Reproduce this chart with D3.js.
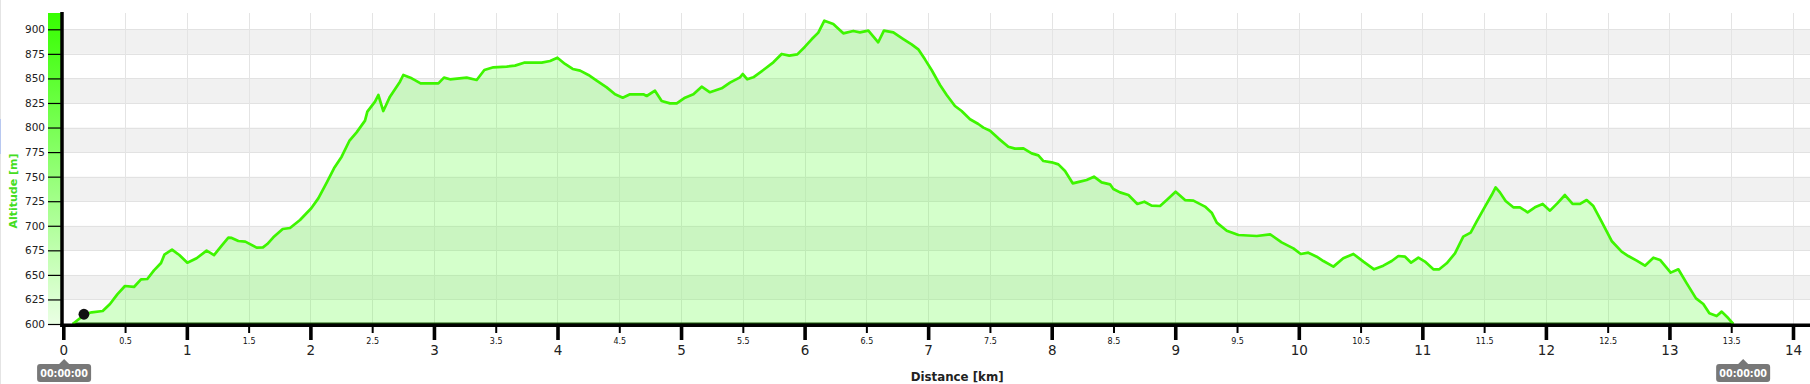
<!DOCTYPE html>
<html>
<head>
<meta charset="utf-8">
<script src="https://cdn.jsdelivr.net/npm/d3@7"></script>
<style>
  html, body { margin: 0; padding: 0; background: #fff; }
  svg { display: block; }
  text { font-family: "DejaVu Sans", Verdana, sans-serif; }
</style>
</head>
<body>
<script>
// ---------- DATA ----------
const distanceKm = [0.076,0.135,0.167,0.23,0.319,0.378,0.437,0.499,0.572,0.629,0.68,0.734,0.791,0.818,0.88,0.939,1.004,1.079,1.16,1.22,1.282,1.336,1.363,1.417,1.473,1.565,1.616,1.651,1.7,1.776,1.835,1.916,2.007,2.064,2.132,2.191,2.253,2.315,2.374,2.442,2.461,2.523,2.55,2.59,2.644,2.725,
2.752,2.82,2.892,3.036,3.081,3.13,3.265,3.346,3.408,3.481,3.589,3.656,3.729,3.872,3.94,3.999,4.061,4.123,4.183,4.25,4.317,4.398,4.466,4.528,4.587,4.695,4.722,4.789,4.843,4.911,4.965,5.032,5.1,5.167,5.234,5.329,5.396,5.477,
5.499,5.536,5.585,5.666,5.747,5.814,5.876,5.941,6.003,6.057,6.111,6.16,6.232,6.313,6.394,6.448,6.516,6.596,6.642,6.718,6.799,6.866,6.92,6.974,7.028,7.096,7.15,7.217,7.271,7.339,7.406,7.447,7.501,7.568,7.649,7.703,7.771,7.838,7.892,7.933,8.0,8.054,8.108,8.17,8.229,
8.283,8.342,8.404,8.472,8.499,8.553,8.621,8.693,8.75,8.809,8.877,8.931,9.003,9.079,9.147,9.241,9.295,9.336,9.417,9.512,9.66,9.768,9.861,9.956,10.016,10.077,10.145,10.199,10.28,10.36,10.442,10.523,10.609,10.684,10.752,10.806,10.86,10.909,10.968,
11.021,11.089,11.137,11.197,11.264,11.331,11.391,11.439,11.507,11.561,11.593,11.628,11.674,11.736,11.79,11.852,11.911,11.974,12.033,12.092,12.154,12.216,12.276,12.33,12.384,12.451,12.532,12.613,12.667,12.735,12.802,12.87,12.924,13.01,13.072,13.14,13.215,13.274,13.323,13.382,13.423,13.477,13.517];
const altitudeM = [600,605.8,609.8,611.9,613.2,620.4,630.2,638.7,637.7,645.5,645.8,654.6,662.1,670.6,675.7,670.2,662.4,666.9,674.7,670.2,679.7,687.9,687.6,684.5,683.8,677.7,678,681.4,688.2,696.7,697.7,705.9,717.8,727.9,743.9,758.5,770.3,786.3,795.1,807,816.2,826.3,833.1,816.8,831.4,846.7,
853.5,850.1,845,845,850.8,849.1,850.8,848.4,858.6,861.3,862,863,866,866,867.7,871.1,864.7,859.6,857.9,853.5,847.7,840.9,833.8,830.4,833.8,833.8,832.1,837.5,827,824.6,824.6,830.4,833.8,841.6,835.9,839.9,845.7,851.1,
854.5,849.1,851.1,858.6,866.4,874.9,873.2,874.5,882.3,889.8,896.6,908.8,905.4,895.9,898.3,896.9,898.6,886.8,898.6,896.9,890.1,884.7,879.6,869.4,858.6,843.3,833.1,821.9,816.8,808.4,803.6,799.9,796.8,789,780.5,778.5,778.8,773.7,771.7,765.9,764.6,762.5,755.8,743.2,744.9,
746.6,750,744.2,742.2,737.4,734,731.3,722.2,724.5,720.5,720.1,726.2,734.7,726.2,725.6,719.5,713.3,703.2,695,690.6,689.6,691.3,683.1,677,671.3,672.6,668.5,664.1,658.4,666.9,671.3,663.5,655.7,659.4,664.1,669.2,668.5,662.4,667.5,
663.5,655.7,655.7,661.8,671.9,688.9,693,704.2,719.5,731.3,739.1,734,725.2,718.8,718.8,713.7,718.8,722.2,715.4,722.8,731.3,722.2,722.2,726.2,720.1,704.2,684.5,673.6,669.2,664.5,659.4,667.5,665.2,652.3,655.7,641.4,626.1,620.4,610.9,608.1,612.6,605.8,600];

const yTicks = [600,625,650,675,700,725,750,775,800,825,850,875,900];
const xMajorTicks = [0,1,2,3,4,5,6,7,8,9,10,11,12,13,14];
const xMinorTicks = [0.5,1.5,2.5,3.5,4.5,5.5,6.5,7.5,8.5,9.5,10.5,11.5,12.5,13.5];
const xGridTicks = [0.5,1,1.5,2,2.5,3,3.5,4,4.5,5,5.5,6,6.5,7,7.5,8,8.5,9,9.5,10,10.5,11,11.5,12,12.5,13,13.5,14];
const startMarker = { km: 0.167, alt: 609.9 };
const timeMarkerKm = [0, 13.59];
const timeMarkerLabels = ["00:00:00", "00:00:00"];
const xTitle = "Distance [km]";
const yTitle = "Altitude [m]";

// ---------- LAYOUT ----------
const W = 1810, H = 384;
const plotTop = 13, plotBottom = 324;
const x = d3.scaleLinear().domain([0, 14]).range([63.3, 1793]);
const y = d3.scaleLinear().domain([600, 900]).range([plotBottom, 29.3]);

const svg = d3.select("body").append("svg").attr("width", W).attr("height", H);

// left edge frame line
svg.append("line").attr("x1", 0.5).attr("x2", 0.5).attr("y1", 0).attr("y2", H)
  .attr("stroke", "#e4e4e4").attr("stroke-width", 1);
svg.append("line").attr("x1", 0.5).attr("x2", 0.5).attr("y1", 119).attr("y2", 154)
  .attr("stroke", "#b8c8f0").attr("stroke-width", 1);

const plot = svg.append("g");

// alternating bands
const bands = yTicks.slice(0, -1).map((t, i) => ({ lo: t, hi: yTicks[i + 1], i }))
  .filter(b => b.i % 2 === 1);
plot.selectAll("rect.band").data(bands).join("rect")
  .attr("class", "band")
  .attr("x", x(0)).attr("width", W - x(0))
  .attr("y", d => y(d.hi)).attr("height", d => y(d.lo) - y(d.hi))
  .attr("fill", "#f1f1f1");

// horizontal grid lines
plot.selectAll("line.hgrid").data(yTicks.slice(1)).join("line")
  .attr("class", "hgrid")
  .attr("x1", x(0)).attr("x2", W)
  .attr("y1", d => Math.round(y(d)) + 0.5).attr("y2", d => Math.round(y(d)) + 0.5)
  .attr("stroke", "#e2e2e2").attr("stroke-width", 1);

// vertical grid lines
plot.selectAll("line.vgrid").data(xGridTicks).join("line")
  .attr("class", "vgrid")
  .attr("x1", d => Math.round(x(d)) + 0.5).attr("x2", d => Math.round(x(d)) + 0.5)
  .attr("y1", plotTop).attr("y2", plotBottom)
  .attr("stroke", "#e4e4e4").attr("stroke-width", 1);

// area + line
const data = distanceKm.map((k, i) => ({ km: k, alt: altitudeM[i] }));
const area = d3.area().x(d => x(d.km)).y0(y(600)).y1(d => y(d.alt));
const line = d3.line().x(d => x(d.km)).y(d => y(d.alt));
plot.append("path").datum(data).attr("d", area)
  .attr("fill", "rgba(100,255,70,0.28)");
plot.append("line")
  .attr("x1", x(distanceKm[0])).attr("x2", x(distanceKm[distanceKm.length - 1]))
  .attr("y1", plotBottom - 0.8).attr("y2", plotBottom - 0.8)
  .attr("stroke", "#1d5a0a").attr("stroke-width", 1.6);
plot.append("path").datum(data).attr("d", line)
  .attr("fill", "none").attr("stroke", "#3ef500").attr("stroke-width", 2.7)
  .attr("stroke-linejoin", "round");

// gradient bar on y axis
const defs = svg.append("defs");
const grad = defs.append("linearGradient").attr("id", "altGrad")
  .attr("x1", 0).attr("y1", 0).attr("x2", 0).attr("y2", 1);
grad.append("stop").attr("offset", "0%").attr("stop-color", "#36ff00");
grad.append("stop").attr("offset", "100%").attr("stop-color", "#eaffe4");
svg.append("rect").attr("x", 48).attr("y", plotTop).attr("width", 14)
  .attr("height", plotBottom - plotTop).attr("fill", "url(#altGrad)");

// y axis
const yAxis = svg.append("g").attr("transform", `translate(${x(0) - 1.3},0)`)
  .call(d3.axisLeft(y).tickValues(yTicks).tickSize(14).tickPadding(3).tickFormat(d3.format("d")));
yAxis.select(".domain").remove();
yAxis.selectAll(".tick line").attr("stroke", "#000").attr("stroke-width", 1.2);
yAxis.selectAll(".tick text").attr("font-size", "10.5px").attr("fill", "#222")
  .attr("font-family", "DejaVu Sans, Verdana, sans-serif");
svg.append("line").attr("x1", x(0) - 1.3).attr("x2", x(0) - 1.3)
  .attr("y1", plotTop - 1).attr("y2", 327)
  .attr("stroke", "#000").attr("stroke-width", 3.5);

// x axis line
svg.append("line").attr("x1", x(0) - 3).attr("x2", W)
  .attr("y1", 325.2).attr("y2", 325.2)
  .attr("stroke", "#000").attr("stroke-width", 3.4);

// x major axis
const xMaj = svg.append("g").attr("transform", "translate(0,326)")
  .call(d3.axisBottom(x).tickValues(xMajorTicks).tickSize(14).tickFormat(d3.format("d")));
xMaj.select(".domain").remove();
xMaj.selectAll(".tick line").attr("stroke", "#000").attr("stroke-width", 3.6);
xMaj.selectAll(".tick text").attr("font-size", "13.5px").attr("fill", "#222")
  .attr("y", 28.5).attr("dy", 0).attr("font-family", "DejaVu Sans, Verdana, sans-serif");

// x minor axis
const xMin = svg.append("g").attr("transform", "translate(0,326)")
  .call(d3.axisBottom(x).tickValues(xMinorTicks).tickSize(7).tickFormat(d3.format("")));
xMin.select(".domain").remove();
xMin.selectAll(".tick line").attr("stroke", "#000").attr("stroke-width", 2);
xMin.selectAll(".tick text").attr("font-size", "8px").attr("fill", "#111")
  .attr("y", 17.5).attr("dy", 0).attr("font-family", "DejaVu Sans, Verdana, sans-serif");

// start marker
svg.append("circle").attr("cx", x(startMarker.km)).attr("cy", y(startMarker.alt))
  .attr("r", 5.4).attr("fill", "#111");

// time markers
const tm = svg.selectAll("g.tmark").data(timeMarkerKm.map((k, i) => ({ km: k, label: timeMarkerLabels[i] })))
  .join("g").attr("class", "tmark")
  .attr("transform", d => `translate(${x(d.km) + 0.8},0)`);
tm.append("path")
  .attr("d", "M-27,367 Q-27,364 -24,364 L-5,364 L0,359 L5,364 L24,364 Q27,364 27,367 L27,379 Q27,382 24,382 L-24,382 Q-27,382 -27,379 Z")
  .attr("fill", "#787878");
tm.append("text").attr("x", 0).attr("y", 377).attr("text-anchor", "middle")
  .attr("font-size", "9.6px").attr("font-weight", "bold").attr("fill", "#fff")
  .text(d => d.label);

// titles
svg.append("text").attr("x", (x(0) + x(14)) / 2 + 29).attr("y", 381)
  .attr("text-anchor", "middle").attr("font-size", "11.8px").attr("font-weight", "bold")
  .attr("fill", "#222").text(xTitle);
svg.append("text").attr("transform", "translate(16.5,191) rotate(-90)")
  .attr("text-anchor", "middle").attr("font-size", "11px").attr("font-weight", "bold")
  .attr("fill", "#44dd22").text(yTitle);
</script>
</body>
</html>
